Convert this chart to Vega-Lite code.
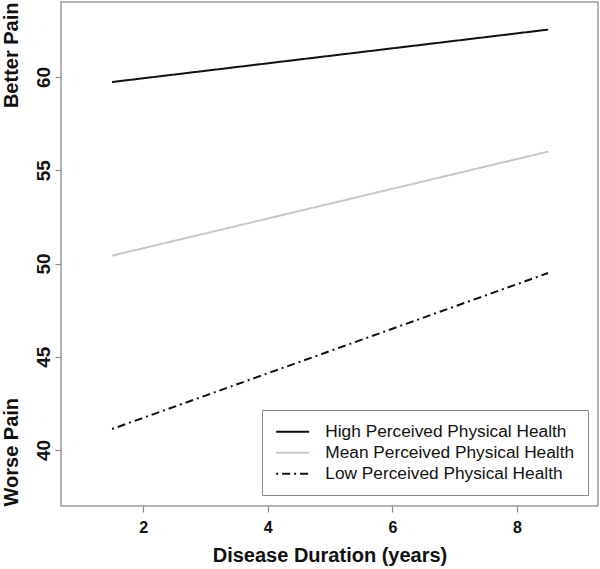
{
  "$schema": "https://vega.github.io/schema/vega-lite/v6.json",
  "autosize": {"type": "none"},
  "padding": {"left": 61, "top": 2, "right": 2, "bottom": 63},
  "width": 537,
  "height": 504,
  "background": "white",
  "config": {
    "view": {"stroke": "#9a9a9a", "strokeWidth": 1.5},
    "axis": {
      "domain": false,
      "grid": false,
      "tickColor": "#8a8a8a",
      "tickSize": 6,
      "tickWidth": 1.2,
      "labelFont": "Liberation Sans",
      "labelFontWeight": "bold",
      "labelColor": "#111",
      "titleFont": "Liberation Sans",
      "titleFontWeight": "bold",
      "titleFontSize": 20,
      "titleColor": "#111"
    },
    "legend": {
      "labelFont": "Liberation Sans",
      "labelFontSize": 17.3,
      "labelColor": "#111",
      "labelLimit": 500
    }
  },
  "data": {
    "values": [
      {"duration": 1.5, "pain": 59.73, "group": "High Perceived Physical Health"},
      {"duration": 8.5, "pain": 62.54, "group": "High Perceived Physical Health"},
      {"duration": 1.5, "pain": 50.42, "group": "Mean Perceived Physical Health"},
      {"duration": 8.5, "pain": 56.0, "group": "Mean Perceived Physical Health"},
      {"duration": 1.5, "pain": 41.13, "group": "Low Perceived Physical Health"},
      {"duration": 8.5, "pain": 49.49, "group": "Low Perceived Physical Health"}
    ]
  },
  "resolve": {"axis": {"y": "independent"}},
  "layer": [
    {
      "transform": [{"filter": "datum.group !== 'Low Perceived Physical Health'"}],
      "mark": {"type": "line", "strokeWidth": 2},
      "encoding": {
        "x": {
          "field": "duration", "type": "quantitative",
          "scale": {"domain": [0.68, 9.3], "nice": false, "zero": false},
          "axis": {"values": [2, 4, 6, 8], "format": "d", "labelFontSize": 16, "labelPadding": 7, "title": "Disease Duration (years)", "titlePadding": 10}
        },
        "y": {
          "field": "pain", "type": "quantitative",
          "scale": {"domain": [37, 64.02], "nice": false, "zero": false},
          "axis": {"values": [40, 45, 50, 55, 60], "format": "d", "labelFontSize": 19, "labelPadding": 2, "labelAngle": -90, "labelAlign": "center", "labelBaseline": "bottom", "title": "Better Pain", "titleAnchor": "end", "titlePadding": 13}
        },
        "color": {
          "field": "group", "type": "nominal",
          "scale": {
            "domain": ["High Perceived Physical Health", "Mean Perceived Physical Health", "Low Perceived Physical Health"],
            "range": ["#111111", "#c8c8c8", "#111111"]
          },
          "legend": {
            "title": null,
            "orient": "none",
            "legendX": 201,
            "legendY": 408,
            "symbolType": "M-1.5,0H5.1",
            "symbolSize": 100,
            "symbolStrokeWidth": 2,
            "labelOffset": 33,
            "padding": 13,
            "rowPadding": 3,
            "fillColor": "white",
            "strokeColor": "#8a8a8a"
          }
        },
        "strokeDash": {
          "field": "group", "type": "nominal",
          "scale": {
            "domain": ["High Perceived Physical Health", "Mean Perceived Physical Health", "Low Perceived Physical Health"],
            "range": [[1, 0], [1, 0], [2, 4, 8, 4]]
          },
          "legend": null
        }
      }
    },
    {
      "transform": [{"filter": "datum.group === 'Low Perceived Physical Health'"}],
      "mark": {"type": "line", "strokeWidth": 2},
      "encoding": {
        "x": {"field": "duration", "type": "quantitative"},
        "y": {
          "field": "pain", "type": "quantitative",
          "axis": {"orient": "left", "labels": false, "ticks": false, "title": "Worse Pain", "titleAnchor": "start", "titlePadding": 40}
        },
        "color": {"field": "group", "type": "nominal"},
        "strokeDash": {"field": "group", "type": "nominal"}
      }
    }
  ]
}
